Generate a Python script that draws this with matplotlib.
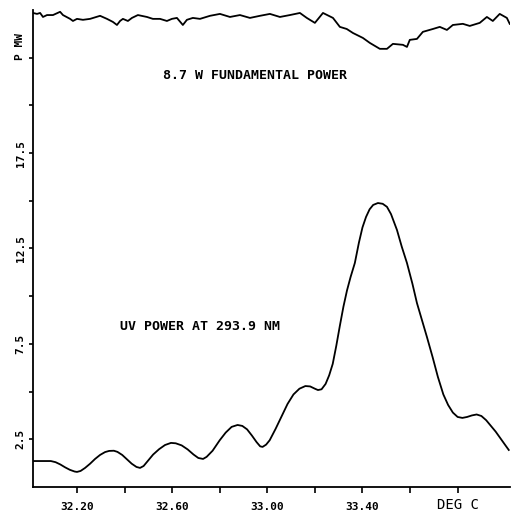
import matplotlib.pyplot as plt

# UV power trace (temperature in deg C, power in mW)
uv_temp = [32.015, 32.09, 32.11, 32.13, 32.15, 32.17, 32.19, 32.20, 32.215, 32.234,
           32.255, 32.276, 32.297, 32.318, 32.335, 32.355, 32.37, 32.39, 32.41, 32.43,
           32.45, 32.465, 32.48, 32.50, 32.52, 32.545, 32.57, 32.595, 32.615, 32.64,
           32.665, 32.69, 32.71, 32.73, 32.745, 32.77, 32.80, 32.825, 32.85, 32.875,
           32.895, 32.915, 32.935, 32.955, 32.97, 32.98, 32.995, 33.01, 33.035, 33.06,
           33.085, 33.11, 33.135, 33.16, 33.18, 33.20, 33.213, 33.228, 33.245, 33.26,
           33.275, 33.29, 33.305, 33.32, 33.335, 33.35, 33.368, 33.385, 33.40, 33.415,
           33.43, 33.445, 33.465, 33.485, 33.503, 33.52, 33.545, 33.565, 33.587, 33.61,
           33.629, 33.65, 33.671, 33.695, 33.717, 33.74, 33.76, 33.78, 33.80, 33.82,
           33.84, 33.86, 33.88, 33.90, 33.92, 33.94, 33.96, 33.98, 34.00, 34.015]
uv_power = [1.36, 1.36, 1.30, 1.18, 1.03, 0.90, 0.81, 0.79, 0.84, 1.00,
            1.22, 1.47, 1.68, 1.83, 1.89, 1.90, 1.84, 1.68, 1.45, 1.22,
            1.05, 1.00, 1.10, 1.40, 1.70, 1.98, 2.20, 2.31, 2.29, 2.18,
            1.97, 1.70, 1.52, 1.47, 1.58, 1.90, 2.45, 2.85, 3.15, 3.25,
            3.20, 3.02, 2.70, 2.35, 2.13, 2.10, 2.22, 2.45, 3.05, 3.70,
            4.35, 4.85, 5.15, 5.29, 5.27, 5.15, 5.08, 5.12, 5.40, 5.85,
            6.45, 7.40, 8.45, 9.45, 10.30, 11.00, 11.74, 12.80, 13.60, 14.15,
            14.55, 14.78, 14.88, 14.84, 14.68, 14.30, 13.47, 12.60, 11.74, 10.65,
            9.64, 8.75, 7.86, 6.80, 5.77, 4.85, 4.30, 3.90, 3.67, 3.62,
            3.67, 3.75, 3.80, 3.72, 3.50, 3.20, 2.90, 2.55, 2.20, 1.94]

# fundamental power trace (plotted near the top)
fund_temp = [32.015, 32.032, 32.045, 32.057, 32.074, 32.099, 32.129, 32.141, 32.171, 32.183,
             32.200, 32.225, 32.255, 32.297, 32.326, 32.351, 32.368, 32.381, 32.393, 32.414,
             32.431, 32.456, 32.494, 32.519, 32.549, 32.578, 32.599, 32.620, 32.645, 32.662,
             32.687, 32.717, 32.759, 32.801, 32.843, 32.885, 32.927, 32.969, 33.011, 33.053,
             33.095, 33.137, 33.166, 33.200, 33.234, 33.276, 33.305, 33.334, 33.360, 33.402,
             33.431, 33.473, 33.503, 33.528, 33.570, 33.587, 33.599, 33.629, 33.654, 33.696,
             33.725, 33.755, 33.780, 33.822, 33.851, 33.893, 33.923, 33.948, 33.977, 34.007,
             34.019]
fund_power = [24.84, 24.79, 24.84, 24.63, 24.73, 24.73, 24.90, 24.73, 24.53, 24.42,
              24.53, 24.48, 24.53, 24.69, 24.53, 24.37, 24.21, 24.42, 24.53, 24.42,
              24.58, 24.73, 24.63, 24.53, 24.53, 24.42, 24.53, 24.58, 24.21, 24.48,
              24.58, 24.53, 24.69, 24.79, 24.63, 24.73, 24.58, 24.69, 24.79, 24.63,
              24.73, 24.84, 24.58, 24.32, 24.84, 24.58, 24.11, 24.00, 23.79, 23.53,
              23.27, 22.96, 22.96, 23.22, 23.17, 23.06, 23.43, 23.48, 23.85, 24.00,
              24.11, 23.95, 24.21, 24.27, 24.16, 24.32, 24.63, 24.42, 24.79, 24.58,
              24.27]

x_ticks = [32.2, 32.4, 32.6, 32.8, 33.0, 33.2, 33.4, 33.6, 33.8]
x_labels = ["32.20", "", "32.60", "", "33.00", "", "33.40", "", ""]
y_ticks = [2.5, 5, 7.5, 10, 12.5, 15, 17.5, 20, 22.5]
y_labels = ["2.5", "", "7.5", "", "12.5", "", "17.5", "", ""]

mono = "DejaVu Sans Mono"

fig = plt.figure(figsize=(5.12, 5.13), dpi=100)
ax = fig.add_axes([0.0635, 0.0507, 0.9325, 0.93])

ax.plot(uv_temp, uv_power, color="black", lw=1.3)
ax.plot(fund_temp, fund_power, color="black", lw=1.3)

ax.set_xlim(32.013, 34.02)
ax.set_ylim(0, 25)
ax.spines["top"].set_visible(False)
ax.spines["right"].set_visible(False)
ax.spines["left"].set_linewidth(1.3)
ax.spines["bottom"].set_linewidth(1.3)

ax.set_xticks(x_ticks)
ax.set_xticklabels(x_labels, fontfamily=mono, fontweight="bold", fontsize=8)
ax.set_yticks(y_ticks)
ax.set_yticklabels(y_labels, fontfamily=mono, fontweight="bold", fontsize=8,
                   rotation=90, va="center")
ax.tick_params(axis="x", direction="out", length=4.5, width=1.2, pad=6)
ax.tick_params(axis="y", direction="out", length=3, width=1.2, pad=2)

ax.text(33.8, -0.6, "DEG C", ha="center", va="top", fontfamily=mono, fontsize=10)
ax.text(-0.016, 23.1, "P MW", transform=ax.get_yaxis_transform(), rotation=90,
        ha="right", va="center", fontfamily=mono, fontweight="bold", fontsize=8)

ax.text(32.948, 21.55, "8.7 W FUNDAMENTAL POWER", ha="center", va="center",
        fontfamily=mono, fontweight="bold", fontsize=9.5)
ax.text(32.717, 8.4, "UV POWER AT 293.9 NM", ha="center", va="center",
        fontfamily=mono, fontweight="bold", fontsize=9.5)

plt.savefig("out.png", dpi=100)
